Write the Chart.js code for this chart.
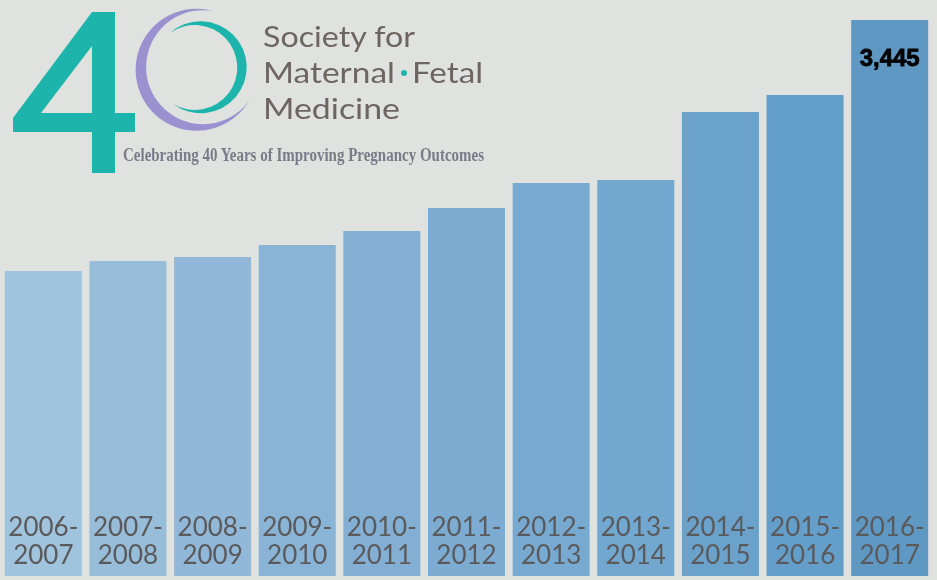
<!DOCTYPE html>
<html>
<head>
<meta charset="utf-8">
<script src="https://cdn.jsdelivr.net/npm/chart.js@4.4.1/dist/chart.umd.min.js"></script>
<style>
  html, body { margin: 0; padding: 0; background: #e0e2df; }
  #wrap { position: relative; width: 937px; height: 580px; overflow: hidden; }
  #logo { position: absolute; left: 0; top: 0; }
</style>
</head>
<body>
<div id="wrap">
  <canvas id="members" width="937" height="580"></canvas>
  <svg id="logo" width="500" height="180" viewBox="0 0 500 180">
    <!-- the "4" -->
    <path fill="#1db5ab" fill-rule="evenodd"
      d="M92,12 L115,12 L115,113 L135,113 L135,132 L115,132 L115,173 L92,173 L92,132 L13,132 L13,118 Z M92,46 L92,113 L41,113 Z"/>
    <!-- purple crescent -->
    <path fill="#9c91d0" d="M213,11 A61,61 0 1,0 249,101 A57,57 0 1,1 213,11 Z"/>
    <!-- teal ring -->
    <path fill="#1db5ab" d="M170,33 A46,46 0 1,1 173,104 A42.5,42.5 0 1,0 170,33 Z"/>
    <g font-family="Lato, 'DejaVu Sans', sans-serif" font-size="28" fill="#6d6562">
      <text x="263" y="47" textLength="152" lengthAdjust="spacingAndGlyphs">Society for</text>
      <text x="263" y="83" textLength="132" lengthAdjust="spacingAndGlyphs">Maternal</text>
      <text x="412" y="83" textLength="71" lengthAdjust="spacingAndGlyphs">Fetal</text>
      <text x="263" y="119" textLength="137" lengthAdjust="spacingAndGlyphs">Medicine</text>
    </g>
    <circle cx="404" cy="73" r="3" fill="#1db5ab"/>
    <text x="123" y="161" font-family="'Liberation Serif', serif" font-weight="bold" font-size="18"
      fill="#7a7b88" textLength="361" lengthAdjust="spacingAndGlyphs">Celebrating 40 Years of Improving Pregnancy Outcomes</text>
  </svg>
</div>
<script>
// membership by season
const seasons = ['2006-2007', '2007-2008', '2008-2009', '2009-2010', '2010-2011', '2011-2012',
                 '2012-2013', '2013-2014', '2014-2015', '2015-2016', '2016-2017'];
const members = [1890, 1952, 1977, 2051, 2138, 2280, 2435, 2454, 2875, 2980, 3445];
const barColors = ['#a0c4dd', '#97bdd9', '#91b8d8', '#8ab4d5', '#82afd3', '#7dacd2',
                   '#78aad1', '#72a7cf', '#6aa2cc', '#649ecb', '#5f98c3'];

// season names sit inside the bars, value only on the last one
const barLabels = {
    id: 'barLabels',
    afterDatasetsDraw(chart) {
        const ctx = chart.ctx;
        const meta = chart.getDatasetMeta(0);
        ctx.save();
        ctx.textAlign = 'center';
        ctx.textBaseline = 'alphabetic';
        meta.data.forEach((bar, i) => {
            const parts = seasons[i].split('-');
            ctx.fillStyle = '#5a5a5c';
            ctx.font = '26px Lato, sans-serif';
            ctx.fillText(parts[0] + '-', bar.x, bar.base - 40);
            ctx.fillText(parts[1], bar.x, bar.base - 12);
            if (i === meta.data.length - 1) {
                ctx.fillStyle = '#000';
                ctx.strokeStyle = '#000';
                ctx.lineWidth = 0.8;
                ctx.font = 'bold 24px "Liberation Sans", Arial, sans-serif';
                const txt = members[i].toLocaleString('en-US');
                ctx.fillText(txt, bar.x, bar.y + 46);
                ctx.strokeText(txt, bar.x, bar.y + 46);
            }
        });
        ctx.restore();
    }
};

new Chart(document.getElementById('members'), {
    type: 'bar',
    data: {
        labels: seasons,
        datasets: [{
            label: 'Members',
            data: members,
            backgroundColor: barColors,
            borderWidth: 0,
            barPercentage: 0.91,
            categoryPercentage: 1
        }]
    },
    options: {
        responsive: false,
        animation: false,
        layout: { padding: { left: 1, right: 5, top: 20, bottom: 4 } },
        plugins: { legend: { display: false }, tooltip: { enabled: false } },
        scales: {
            x: { display: false },
            y: { display: false, min: 0, max: 3445 }
        }
    },
    plugins: [barLabels]
});
</script>
</body>
</html>
